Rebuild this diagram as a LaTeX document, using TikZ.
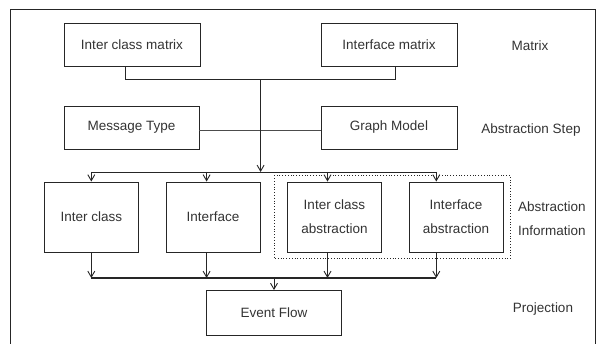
\documentclass[tikz,border=0pt]{standalone}
\usepackage{fontspec}
\setmainfont{Liberation Sans}
\usetikzlibrary{arrows.meta,calc}
\begin{document}
\begin{tikzpicture}[x=1pt,y=-1pt,
  every node/.style={font=\fontsize{13.5}{24}\selectfont, text=black!80},
  box/.style={draw=black!85, line width=0.9pt, inner sep=0pt, align=center},
  conn/.style={draw=black!85, line width=0.9pt},
  arr/.style={conn, -{Straight Barb[length=6pt,width=7pt]}},
  lab/.style={inner sep=0pt}]
\useasboundingbox (0,0) rectangle (605,344);
% frame
\draw[line width=0.9pt, black!85] (10.5,346) -- (10.5,9.5) -- (595,9.5) -- (595,346);
% top boxes
\node[box, minimum width=136pt, minimum height=43pt] (icm) at (132,44.5) {Inter class matrix};
\node[box, minimum width=136pt, minimum height=43pt] (ifm) at (389,44.5) {Interface matrix};
\node[lab] (lmatrix) at (530,46) {Matrix};
% abstraction step
\node[box, minimum width=135pt, minimum height=43pt] (mt) at (131.5,127.5) {Message Type};
\node[box, minimum width=136pt, minimum height=43pt] (gm) at (389,127.5) {Graph Model};
\node[lab] (lstep) at (531,130) {Abstraction Step};
% middle boxes
\node[box, minimum width=94pt, minimum height=70pt] (ic) at (91.3,217) {Inter class};
\node[box, minimum width=94pt, minimum height=70pt] (if) at (213,217) {Interface};
\node[box, minimum width=94pt, minimum height=70pt] (ica) at (334.5,217) {Inter class\\abstraction};
\node[box, minimum width=94pt, minimum height=70pt] (ifa) at (456,217) {Interface\\abstraction};
\node[lab, anchor=west, align=left] (linfo) at (518,219) {Abstraction\\Information};
% dotted group
\draw[dotted, line width=0.8pt, black!85] (274,175.5) rectangle (510.5,258.5);
% event flow
\node[box, minimum width=135pt, minimum height=45pt] (ef) at (274,313) {Event Flow};
\node[lab] (lproj) at (543,309) {Projection};
% connectors top
\coordinate (j1) at (260.6,79.3);
\coordinate (j2) at (260.6,172);
\draw[conn] ([xshift=-6.5pt]icm.south) |- (j1) -| ([xshift=6.8pt]ifm.south);
\draw[conn, line width=1.6pt, black!70] ([yshift=-3pt]mt.east) -- ([yshift=-3pt]gm.west);
\draw[arr] (j1) -- (j2);
\coordinate (d1) at (91.3,172);
\coordinate (d4) at (436.3,172);
\draw[conn] (d1) -- (d4);
\draw[arr] (d1) -- (ic.north);
\draw[arr] ([xshift=-6.4pt]if.north |- d1) -- ([xshift=-6.4pt]if.north);
\draw[arr] ([xshift=-7pt]ica.north |- d1) -- ([xshift=-7pt]ica.north);
\draw[arr] (d4) -- (d4 |- ifa.north);
% connectors bottom
\coordinate (b1) at (91.3,278);
\coordinate (b4) at (436.3,278);
\coordinate (b0) at (274,278);
\draw[conn, line width=1.2pt] (b1) -- (b4);
\draw[arr] (ic.south) -- (b1);
\draw[arr] ([xshift=-6.4pt]if.south) -- ([xshift=-6.4pt]if.south |- b1);
\draw[arr] ([xshift=-7pt]ica.south) -- ([xshift=-7pt]ica.south |- b1);
\draw[arr] (b4 |- ifa.south) -- (b4);
\draw[arr] (b0) -- (ef.north);
\end{tikzpicture}
\end{document}
